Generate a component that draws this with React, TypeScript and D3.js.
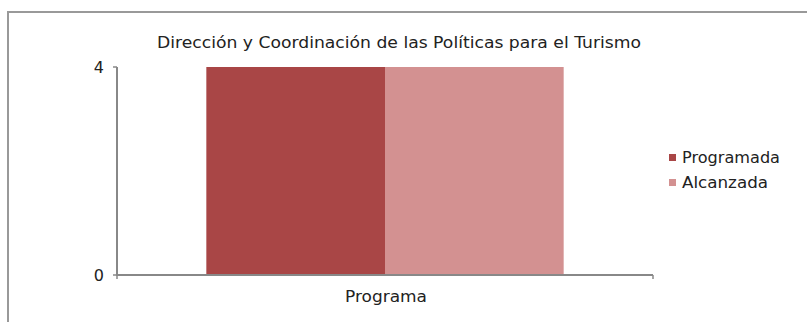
import React from "react";
import * as d3 from "d3";

const title = "Dirección y Coordinación de las Políticas para el Turismo";
const categories = ["Programa"];
const seriesNames = ["Programada", "Alcanzada"];
const programada = [4];
const alcanzada = [4];
const yTicks = [0, 4];
const colors = ["#A94646", "#D39191"];
const legendWidths = [98, 86];

export default function App() {
  const W = 807, H = 322;
  const left = 117, right = 653, top = 67, bottom = 275;
  const x = d3.scaleBand().domain(categories).range([left, right]);
  const inner = d3.scaleBand().domain(seriesNames).range([0, x.bandwidth()]).paddingInner(0).paddingOuter(0.5);
  const y = d3.scaleLinear().domain([0, 4]).range([bottom, top]);
  const series = [programada, alcanzada];
  const font = "'DejaVu Sans', 'Open Sans', sans-serif";
  return (
    <svg width={W} height={H} style={{ position: "absolute", left: 0, top: 0 }}>
      <rect x={0} y={0} width={W} height={H} fill="#fff" />
      <path d={`M8,${H} V12 H${W}`} fill="none" stroke="#999" strokeWidth={2} />
      <text x={157} y={48} textLength={484} lengthAdjust="spacingAndGlyphs" fontFamily={font} fontSize={15} fill="#222">{title}</text>
      {categories.map((c, i) =>
        series.map((s, j) => (
          <rect key={c + j} x={(x(c) ?? 0) + (inner(seriesNames[j]) ?? 0)} y={y(s[i])} width={inner.bandwidth()} height={y(0) - y(s[i])} fill={colors[j]} />
        ))
      )}
      <line x1={left} x2={left} y1={y(4)} y2={bottom} stroke="#888" strokeWidth={2} />
      <line x1={left - 1} x2={right} y1={bottom} y2={bottom} stroke="#888" strokeWidth={2} />
      {yTicks.map(t => (
        <g key={t}>
          <line x1={left - 4} x2={left} y1={y(t)} y2={y(t)} stroke="#888" strokeWidth={1.5} />
          <text x={104} y={y(t) + 6} textAnchor="end" fontFamily={font} fontSize={16} fill="#222">{t}</text>
        </g>
      ))}
      {[left, right].map(xv => (
        <line key={xv} x1={xv} x2={xv} y1={bottom} y2={bottom + 4} stroke="#888" strokeWidth={1.5} />
      ))}
      {categories.map(c => (
        <text key={c} x={345} y={302} textLength={82} lengthAdjust="spacingAndGlyphs" fontFamily={font} fontSize={15} fill="#222">{c}</text>
      ))}
      {seriesNames.map((n, j) => (
        <g key={n}>
          <rect x={669} y={154 + j * 25} width={7} height={7} fill={colors[j]} />
          <text x={682} y={163 + j * 25} textLength={legendWidths[j]} lengthAdjust="spacingAndGlyphs" fontFamily={font} fontSize={15} fill="#222">{n}</text>
        </g>
      ))}
    </svg>
  );
}
